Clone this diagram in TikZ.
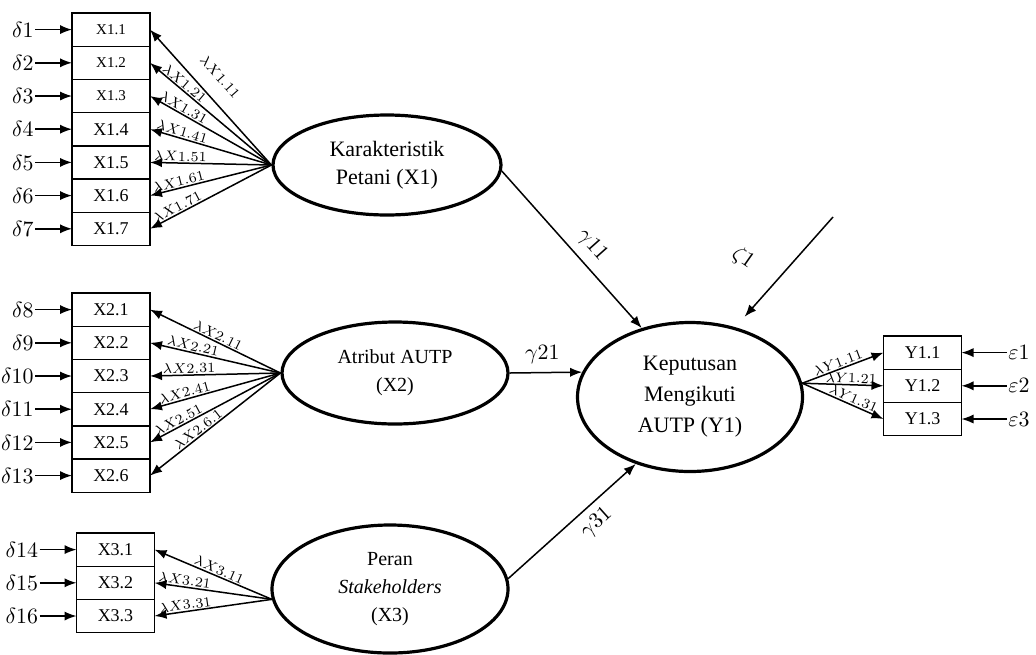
\documentclass[tikz,border=0pt]{standalone}
\usepackage{fontspec}
\setmainfont{Liberation Serif}
\usetikzlibrary{arrows.meta,positioning,shapes.geometric}

\begin{document}
\begin{tikzpicture}
  [
   x=0.5pt,y=-0.5pt,
   node distance=0pt and 6.5mm,
   lv/.style={ellipse,draw,line width=1.6pt,inner sep=0pt,align=center},
   ob/.style={rectangle,draw,line width=0.7pt,minimum width=39pt,minimum height=16.6pt,inner sep=0pt,outer sep=0pt,font=\fontsize{9}{10}\selectfont},
   sb/.style={ob,font=\fontsize{7.5}{9}\selectfont},
   er/.style={inner sep=0.5pt,font=\fontsize{11}{12}\selectfont},
   lb/.style={sloped,above,inner sep=0.6pt,font=\fontsize{7}{7}\selectfont},
   gl/.style={inner sep=4pt,font=\fontsize{11}{12}\selectfont},
   arr/.style={-{Latex[length=6pt,width=4.6pt]},line width=0.75pt}
  ]
   \useasboundingbox (0,0) rectangle (1036,654);

   % latent variables
   \node[lv,minimum width=114pt,minimum height=50pt,font=\fontsize{11}{14}\selectfont] (lx1) at (387,165) {Karakteristik\\Petani (X1)};
   \node[lv,minimum width=113pt,minimum height=51pt,font=\fontsize{10}{14}\selectfont] (lx2) at (395,373) {Atribut AUTP\\(X2)};
   \node[lv,minimum width=118pt,minimum height=64pt,font=\fontsize{10}{14}\selectfont] (lx3) at (390,589) {Peran\\\textit{Stakeholders}\\(X3)};
   \node[lv,minimum width=112.5pt,minimum height=74.5pt,font=\fontsize{11}{15.5}\selectfont] (ly1) at (690,397) {Keputusan\\Mengikuti\\AUTP (Y1)};

   % indicators of X1
   \node[sb,anchor=north] (x11) at (111,13) {X1.1};
   \node[sb] (x12) [below=of x11] {X1.2};
   \node[sb] (x13) [below=of x12] {X1.3};
   \node[ob] (x14) [below=of x13] {X1.4};
   \node[ob] (x15) [below=of x14] {X1.5};
   \node[ob] (x16) [below=of x15] {X1.6};
   \node[ob] (x17) [below=of x16] {X1.7};

   % indicators of X2
   \node[ob,anchor=north] (x21) at (111,293) {X2.1};
   \node[ob] (x22) [below=of x21] {X2.2};
   \node[ob] (x23) [below=of x22] {X2.3};
   \node[ob] (x24) [below=of x23] {X2.4};
   \node[ob] (x25) [below=of x24] {X2.5};
   \node[ob] (x26) [below=of x25] {X2.6};

   % indicators of X3
   \node[ob,anchor=north] (x31) at (115.5,533) {X3.1};
   \node[ob] (x32) [below=of x31] {X3.2};
   \node[ob] (x33) [below=of x32] {X3.3};

   % indicators of Y1
   \node[ob,anchor=north] (y11) at (922.5,336) {Y1.1};
   \node[ob] (y12) [below=of y11] {Y1.2};
   \node[ob] (y13) [below=of y12] {Y1.3};

   % errors
   \node[er] (d1) [left=of x11] {$\delta1$};
   \node[er] (d2) [left=of x12] {$\delta2$};
   \node[er] (d3) [left=of x13] {$\delta3$};
   \node[er] (d4) [left=of x14] {$\delta4$};
   \node[er] (d5) [left=of x15] {$\delta5$};
   \node[er] (d6) [left=of x16] {$\delta6$};
   \node[er] (d7) [left=of x17] {$\delta7$};
   \node[er] (d8) [left=of x21] {$\delta8$};
   \node[er] (d9) [left=of x22] {$\delta9$};
   \node[er] (d10) [left=of x23] {$\delta10$};
   \node[er] (d11) [left=of x24] {$\delta11$};
   \node[er] (d12) [left=of x25] {$\delta12$};
   \node[er] (d13) [left=of x26] {$\delta13$};
   \node[er] (d14) [left=of x31] {$\delta14$};
   \node[er] (d15) [left=of x32] {$\delta15$};
   \node[er] (d16) [left=of x33] {$\delta16$};
   \node[er] (e1) [right=8mm of y11] {$\varepsilon1$};
   \node[er] (e2) [right=8mm of y12] {$\varepsilon2$};
   \node[er] (e3) [right=8mm of y13] {$\varepsilon3$};
   \coordinate (z1) at (833,217);
   \node[gl,rotate=-35] (zt) at (743,258) {$\zeta1$};

   \draw[arr] (d1) -- (x11);
   \draw[arr] (d2) -- (x12);
   \draw[arr] (d3) -- (x13);
   \draw[arr] (d4) -- (x14);
   \draw[arr] (d5) -- (x15);
   \draw[arr] (d6) -- (x16);
   \draw[arr] (d7) -- (x17);
   \draw[arr] (d8) -- (x21);
   \draw[arr] (d9) -- (x22);
   \draw[arr] (d10) -- (x23);
   \draw[arr] (d11) -- (x24);
   \draw[arr] (d12) -- (x25);
   \draw[arr] (d13) -- (x26);
   \draw[arr] (d14) -- (x31);
   \draw[arr] (d15) -- (x32);
   \draw[arr] (d16) -- (x33);
   \draw[arr] (e1) -- (y11);
   \draw[arr] (e2) -- (y12);
   \draw[arr] (e3) -- (y13);

   % loadings
   \draw[arr] (lx1.west) -- node[lb,pos=0.55,above=7pt] {$\lambda X1.11$} (x11.east);
   \draw[arr] (lx1.west) -- node[lb,pos=0.75] {$\lambda X1.21$} (x12.east);
   \draw[arr] (lx1.west) -- node[lb,pos=0.75] {$\lambda X1.31$} (x13.east);
   \draw[arr] (lx1.west) -- node[lb,pos=0.75] {$\lambda X1.41$} (x14.east);
   \draw[arr] (lx1.west) -- node[lb,pos=0.75] {$\lambda X1.51$} (x15.east);
   \draw[arr] (lx1.west) -- node[lb,pos=0.75] {$\lambda X1.61$} (x16.east);
   \draw[arr] (lx1.west) -- node[lb,pos=0.75] {$\lambda X1.71$} (x17.east);
   \draw[arr] (lx2.west) -- node[lb,pos=0.5] {$\lambda X2.11$} (x21.east);
   \draw[arr] (lx2.west) -- node[lb,pos=0.68] {$\lambda X2.21$} (x22.east);
   \draw[arr] (lx2.west) -- node[lb,pos=0.7] {$\lambda X2.31$} (x23.east);
   \draw[arr] (lx2.west) -- node[lb,pos=0.72] {$\lambda X2.41$} (x24.east);
   \draw[arr] (lx2.west) -- node[lb,pos=0.76] {$\lambda X2.51$} (x25.east);
   \draw[arr] (lx2.west) -- node[lb,pos=0.6] {$\lambda X2.6.1$} (x26.east);
   \draw[arr] (lx3.185) -- node[lb,pos=0.47] {$\lambda X3.11$} (x31.east);
   \draw[arr] (lx3.185) -- node[lb,pos=0.75] {$\lambda X3.21$} (x32.east);
   \draw[arr] (lx3.185) -- node[lb,pos=0.73] {$\lambda X3.31$} (x33.east);
   \draw[arr] (ly1.7) -- node[lb,pos=0.47] {$\lambda Y1.11$} (y11.west);
   \draw[arr] (ly1.7) -- node[lb,pos=0.6] {$\lambda Y1.21$} (y12.west);
   \draw[arr] (ly1.7) -- node[lb,pos=0.6] {$\lambda Y1.31$} (y13.west);

   % structural paths
   \draw[arr] (lx1.-3) -- node[gl,sloped,above,pos=0.55] {$\gamma11$} (ly1.125);
   \draw[arr] (lx2.east) -- node[gl,above,pos=0.45] {$\gamma21$} (ly1.167);
   \draw[arr] (lx3.5) -- node[gl,sloped,below,pos=0.6] {$\gamma31$} (ly1.231);
   \draw[arr,shorten >=7pt] (z1) -- (ly1.57);

\end{tikzpicture}
\end{document}
